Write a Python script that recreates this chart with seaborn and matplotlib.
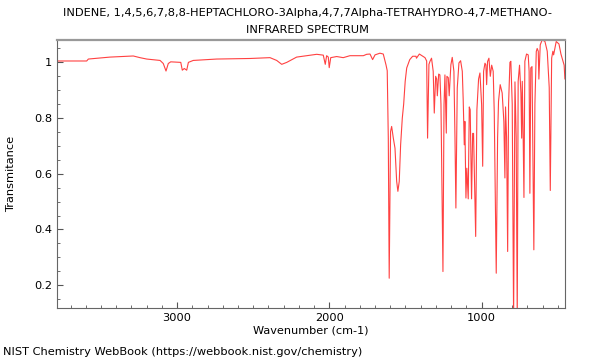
import numpy as np
import pandas as pd
import seaborn as sns
import matplotlib
matplotlib.use("Agg")
import matplotlib.pyplot as plt
from matplotlib.ticker import MultipleLocator, FuncFormatter

# %% --------------------------------------------------------------------
# Spectrum points (wavenumber cm-1, transmittance)

wavenumber = [
    3787, 3594, 3583, 3441, 3288, 3244, 3200, 3112, 3091, 3073, 3058, 3042,
    2976, 2966, 2953, 2937, 2926, 2894, 2740, 2521, 2390, 2346, 2313, 2280,
    2215, 2083, 2040, 2027, 2018, 2007, 2001, 1991, 1952, 1909, 1865, 1777,
    1755, 1733, 1716, 1700, 1668, 1646, 1628, 1620, 1613, 1607, 1598, 1591,
    1580, 1569, 1558, 1550, 1541, 1532, 1521, 1512, 1502, 1492, 1472, 1453,
    1431, 1428, 1409, 1372, 1361, 1355, 1346, 1339, 1329, 1318, 1311, 1302,
    1295, 1291, 1282, 1274, 1267, 1254, 1247, 1241, 1232, 1228, 1219, 1213,
    1202, 1193, 1182, 1175, 1169, 1160, 1149, 1138, 1127, 1121, 1114, 1110,
    1103, 1097, 1088, 1081, 1075, 1066, 1059, 1053, 1039, 1031, 1020, 1011,
    1000, 993, 987, 978, 972, 967, 961, 952, 943, 934, 924, 917,
    904, 895, 889, 878, 865, 854, 847, 843, 836, 829, 823, 814,
    808, 799, 790, 781, 773, 766, 760, 751, 742, 737, 733, 727,
    722, 716, 705, 694, 688, 683, 677, 669, 657, 650, 641, 635,
    628, 624, 615, 602, 584, 569, 556, 549, 540, 532, 527, 510,
    492, 479, 458, 453,
]
transmittance = [
    1.005, 1.005, 1.012, 1.019, 1.023, 1.017, 1.012, 1.007, 0.996, 0.969, 0.996, 1.002,
    1.000, 0.972, 0.978, 0.972, 1.000, 1.007, 1.012, 1.014, 1.017, 1.007, 0.993, 1.000,
    1.019, 1.029, 1.026, 0.993, 1.024, 1.019, 0.981, 1.017, 1.021, 1.017, 1.024, 1.024,
    1.029, 1.030, 1.010, 1.027, 1.033, 1.030, 0.991, 0.970, 0.728, 0.225, 0.752, 0.770,
    0.728, 0.692, 0.573, 0.537, 0.573, 0.704, 0.800, 0.850, 0.932, 0.980, 1.010, 1.022,
    1.022, 1.015, 1.030, 1.017, 1.005, 0.728, 0.993, 1.004, 1.015, 0.968, 0.818, 0.950,
    0.940, 0.880, 0.958, 0.955, 0.850, 0.249, 0.848, 0.955, 0.746, 0.950, 0.945, 0.880,
    0.991, 1.018, 0.968, 0.730, 0.477, 0.908, 0.998, 1.006, 0.968, 0.866, 0.704, 0.788,
    0.513, 0.620, 0.510, 0.840, 0.830, 0.510, 0.745, 0.745, 0.375, 0.830, 0.940, 0.962,
    0.848, 0.627, 0.968, 0.997, 0.991, 0.920, 1.003, 1.015, 0.950, 0.990, 0.968, 0.820,
    0.243, 0.730, 0.860, 0.920, 0.890, 0.788, 0.585, 0.840, 0.730, 0.321, 0.850, 1.000,
    1.004, 0.850, 0.080, 0.930, 0.730, 0.080, 0.932, 0.990, 0.890, 0.728, 0.932, 0.728,
    0.515, 1.004, 1.030, 1.027, 0.968, 0.530, 0.980, 0.985, 0.327, 0.850, 1.039, 1.050,
    1.040, 0.940, 1.063, 1.081, 1.075, 1.040, 0.910, 0.540, 1.015, 1.040, 1.027, 1.075,
    1.066, 1.030, 0.990, 0.940,
]

title_line1 = "INDENE, 1,4,5,6,7,8,8-HEPTACHLORO-3Alpha,4,7,7Alpha-TETRAHYDRO-4,7-METHANO-"
title_line2 = "INFRARED SPECTRUM"
credit = "NIST Chemistry WebBook (https://webbook.nist.gov/chemistry)"

df = pd.DataFrame({"wn": wavenumber, "T": transmittance})

# %% --------------------------------------------------------------------
# Plot

sns.set_style("white")
plt.rcParams["font.family"] = ["DejaVu Sans"]
plt.rcParams["text.color"] = "black"
plt.rcParams["axes.labelcolor"] = "black"

fig = plt.figure(figsize=(6, 3.6), dpi=100)
ax = fig.add_axes([0.0955, 0.1436, 0.846, 0.745])

sns.lineplot(data=df, x="wn", y="T", ax=ax, color="#ff2020", linewidth=0.8,
             alpha=0.85, estimator=None, sort=False)

ax.set_xlim(3787, 453)
ax.set_ylim(0.117, 1.080)

ax.xaxis.set_major_locator(MultipleLocator(1000))
ax.xaxis.set_minor_locator(MultipleLocator(100))
ax.yaxis.set_major_locator(MultipleLocator(0.2))
ax.yaxis.set_minor_locator(MultipleLocator(0.05))
ax.yaxis.set_major_formatter(FuncFormatter(lambda v, p: f"{v:g}"))

ax.tick_params(which="both", direction="in", bottom=True, left=True,
               top=False, right=False, colors="#555555", labelcolor="black",
               labelsize=8.2)
ax.tick_params(which="major", length=4, width=0.8)
ax.tick_params(which="minor", length=2.5, width=0.6)

for side in ["left", "bottom", "right"]:
    ax.spines[side].set_color("#666666")
    ax.spines[side].set_linewidth(0.8)
ax.spines["top"].set_color("#999999")
ax.spines["top"].set_linewidth(1.6)

ax.set_xlabel("Wavenumber (cm-1)", fontsize=8.15, labelpad=2)
ax.set_ylabel("")
fig.text(0.018, 0.517, "Transmitance", rotation=90, ha="center", va="center",
         fontsize=8.2)

fig.text(0.513, 0.963, title_line1, ha="center", va="center", fontsize=8.2)
fig.text(0.513, 0.916, title_line2, ha="center", va="center", fontsize=8.2)
fig.text(0.005, 0.022, credit, ha="left", va="center", fontsize=8.2)

fig.savefig("out.png", dpi=100)
